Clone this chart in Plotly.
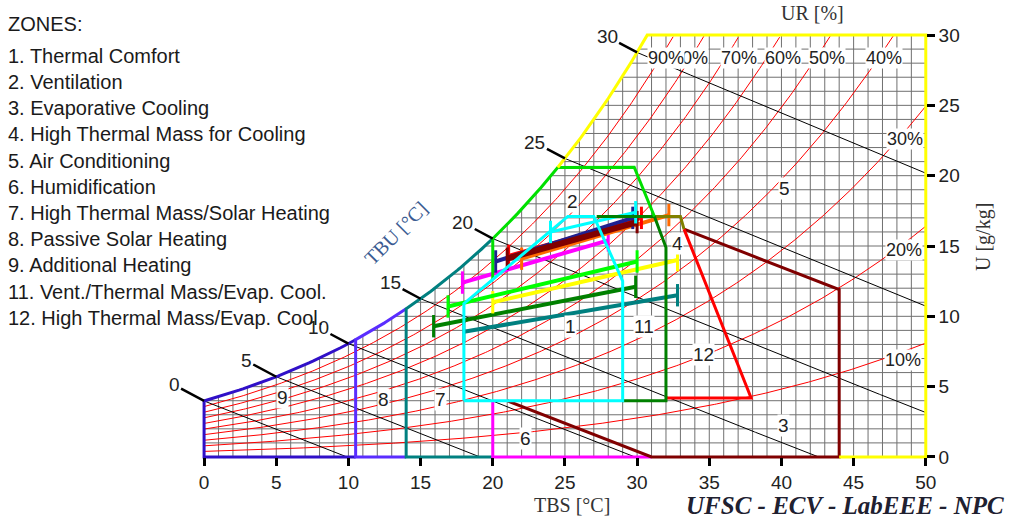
import numpy as np
import plotly.graph_objects as go

# ---------------- constants / data ----------------
P_ATM = 96.0  # kPa, atmospheric pressure used by the chart

RH_LEVELS = [10, 20, 30, 40, 50, 60, 70, 80, 90]
TBU_LEVELS = [0, 5, 10, 15, 20, 25, 30]
X_TICKS = [0, 5, 10, 15, 20, 25, 30, 35, 40, 45, 50]
Y_TICKS = [0, 5, 10, 15, 20, 25, 30]

LEGEND_LINES = [
    "ZONES:",
    "1. Thermal Comfort",
    "2. Ventilation",
    "3. Evaporative Cooling",
    "4. High Thermal Mass for Cooling",
    "5. Air Conditioning",
    "6. Humidification",
    "7. High Thermal Mass/Solar Heating",
    "8. Passive Solar Heating",
    "9. Additional Heating",
    "11. Vent./Thermal Mass/Evap. Cool.",
    "12. High Thermal Mass/Evap. Cool.",
]

ZONE_NUMBERS = ["1", "2", "3", "4", "5", "6", "7", "8", "9", "11", "12"]
ZONE_NUM_T = [25.4, 25.55, 40.15, 32.8, 40.2, 22.3, 16.4, 12.4, 5.4, 30.5, 34.6]
ZONE_NUM_U = [9.3, 18.15, 2.27, 15.2, 19.1, 1.28, 4.1, 4.1, 4.2, 9.3, 7.3]

RH_LABELS = ["10%", "20%", "30%", "40%", "50%", "60%", "70%", "80%", "90%"]
RH_LABEL_T = [48.44, 48.51, 48.58, 47.12, 43.13, 40.12, 37.08, 33.65, 32.02]
RH_LABEL_U = [6.9, 14.7, 22.6, 28.4, 28.4, 28.4, 28.4, 28.4, 28.4]

# zone boundaries (TBS, U); "sat" = point on the saturation curve
ZONES = [
    # color, T list, U list
    ("#3010c8", [10.5, 0, 0, 10.5], [0, 0, "sat", "sat"]),          # 9
    ("#5a2dff", [14, 10.5, 10.5, 14], [0, 0, "sat", "sat"]),        # 8
    ("#008080", [20, 14, 14, 20], [0, 0, "sat", "sat"]),            # 7
    ("#ff00ff", [20, 20, 31], [4, 0, 0]),                            # 6
    ("#800000", [33.25, 44, 44, 31, 21], [16.2, 11.9, 0, 0, 4]),     # 3
    ("#ff0000", [33.25, 37.9, 32], [16.2, 4.2, 4.2]),                # 12
    ("#808000", [31.2, 33.0, 33.25], [17.1, 17.1, 16.2]),            # 4
    ("#008000", [27.2, 31.2, 32, 32, 29], [17.1, 17.1, 14.9, 4, 4]), # 11
    ("#00e000", [20, 20, 24.5, 29.8, 31.2], [12.6, "sat", "sat", 20.6, 17.1]),  # 2
    ("#00ffff", [18, 18, 25.2, 27, 29, 29, 18], [4, 10.9, 17.1, 17.1, 12.5, 4, 4]),  # 1
    ("#ffff00", [24.5, 30.7, 50, 50, 44], ["sat", "sat", 30, 0, 0]), # 5
]

# monthly climate bars (min -> max)
BAR_COLORS = ["#008080", "#008000", "#ffff00", "#00ff00", "#ff00ff",
              "#ff6a00", "#ff0000", "#202090", "#800000", "#00ffff"]
BAR_T_MIN = [18.0, 15.9, 20.0, 16.9, 17.9, 22.0, 21.1, 20.2, 21.0, 24.0]
BAR_U_MIN = [8.9, 9.3, 11.0, 10.7, 12.4, 14.1, 14.3, 13.9, 14.1, 16.0]
BAR_T_MAX = [32.8, 29.9, 32.8, 30.0, 28.0, 32.2, 30.3, 29.7, 30.0, 29.9]
BAR_U_MAX = [11.5, 12.1, 14.0, 13.9, 15.4, 17.2, 17.0, 17.0, 16.7, 17.4]
BAR_WIDTHS = [4, 4, 4, 4, 4, 4, 4, 4, 6, 3]

# ---------------- psychrometrics ----------------
def pws(T):
    T = np.asarray(T, dtype=float)
    return 0.61078 * np.exp(17.27 * T / (T + 237.3))

def w_sat(T):
    p = pws(T)
    return 622.0 * p / (P_ATM - p)

def w_rh(T, rh):
    pv = rh / 100.0 * pws(T)
    return 622.0 * pv / (P_ATM - pv)

def w_wb(T, Tw):
    ws = w_sat(Tw) / 1000.0
    return 1000.0 * ((2501 - 2.326 * Tw) * ws - 1.006 * (T - Tw)) / (2501 + 1.86 * T - 4.186 * Tw)

def t_sat(W):
    pv = W * P_ATM / (622.0 + W)
    a = np.log(pv / 0.61078)
    return 237.3 * a / (17.27 - a)

def expand(Ts, Us):
    xs, ys = [], []
    for i in range(len(Ts)):
        if Us[i] == "sat" and i > 0 and Us[i - 1] == "sat":
            tt = np.linspace(Ts[i - 1], Ts[i], 40)[1:]
            xs += list(tt)
            ys += list(w_sat(tt))
        else:
            xs.append(Ts[i])
            ys.append(float(w_sat(Ts[i])) if Us[i] == "sat" else Us[i])
    return xs, ys

# ---------------- layout geometry ----------------
W_PX, H_PX = 1015, 518
ML, MR, MT, MB = 168, 82, 28, 54
XR = [-2.5, 50.5]
YR = [-0.5, 30.5]
PW = W_PX - ML - MR
PH = H_PX - MT - MB

def pap_x(px):
    return (px - ML) / PW

def pap_y(py):
    return (H_PX - MB - py) / PH

fig = go.Figure()

# ---------------- grid (under saturation) ----------------
gx, gy = [], []
for t in range(0, 51):
    top = min(float(w_sat(t)), 30.0)
    gx += [t, t, None]
    gy += [0, top, None]
for u in range(0, 31):
    left = 0.0 if u < float(w_sat(0)) else float(t_sat(u))
    gx += [left, 50, None]
    gy += [u, u, None]
fig.add_trace(go.Scatter(x=gx, y=gy, mode="lines", line=dict(color="#707070", width=1),
                         hoverinfo="skip", showlegend=False))

# ---------------- RH curves ----------------
for rh in RH_LEVELS:
    tt = np.linspace(0, 50, 401)
    ww = w_rh(tt, rh)
    mask = ww <= 30
    fig.add_trace(go.Scatter(x=tt[mask], y=ww[mask], mode="lines",
                             line=dict(color="#ff0000", width=1),
                             hoverinfo="skip", showlegend=False))

# ---------------- wet bulb lines ----------------
for tw in TBU_LEVELS:
    tt = np.linspace(tw, 50, 600)
    ww = w_wb(tt, tw)
    mask = ww >= 0
    fig.add_trace(go.Scatter(x=tt[mask], y=ww[mask], mode="lines",
                             line=dict(color="#000000", width=1),
                             hoverinfo="skip", showlegend=False))

# ---------------- climate bars ----------------
for c, t0, u0, t1, u1, lw in zip(BAR_COLORS, BAR_T_MIN, BAR_U_MIN, BAR_T_MAX, BAR_U_MAX, BAR_WIDTHS):
    fig.add_trace(go.Scatter(x=[t0, t1], y=[u0, u1], mode="lines+markers",
                             line=dict(color=c, width=lw),
                             marker=dict(symbol="line-ns", size=16, color=c,
                                         line=dict(color=c, width=3)),
                             hoverinfo="skip", showlegend=False))

# ---------------- zones ----------------
for c, Ts, Us in ZONES:
    xs, ys = expand(Ts, Us)
    fig.add_trace(go.Scatter(x=xs, y=ys, mode="lines", line=dict(color=c, width=3),
                             hoverinfo="skip", showlegend=False))

ann = []
SANS = "Liberation Sans, Arial, sans-serif"
SERIF = "Liberation Serif, Times New Roman, serif"

# TBU labels with arrows
for tw in TBU_LEVELS:
    ann.append(dict(x=tw, y=float(w_sat(tw)), xref="x", yref="y", text=str(tw),
                    showarrow=True, arrowhead=0, arrowwidth=2.5, arrowcolor="#000",
                    ax=-30, ay=-16, standoff=0,
                    font=dict(family=SANS, size=19, color="#222")))

# zone numbers
for s, t, u in zip(ZONE_NUMBERS, ZONE_NUM_T, ZONE_NUM_U):
    ann.append(dict(x=t, y=u, xref="x", yref="y", text=s, showarrow=False,
                    bgcolor="white", borderpad=0,
                    font=dict(family=SANS, size=19, color="#222")))

# RH labels (80% drawn before 90% so it is partly covered)
for s, t, u in zip(RH_LABELS, RH_LABEL_T, RH_LABEL_U):
    ann.append(dict(x=t, y=u, xref="x", yref="y", text=s, showarrow=False,
                    bgcolor="white", borderpad=0,
                    font=dict(family=SANS, size=18, color="#222")))

# legend text
LEG_Y = [23, 55, 81, 107, 133, 160, 186, 212, 238, 264, 291, 317]
for s, py in zip(LEGEND_LINES, LEG_Y):
    ann.append(dict(x=pap_x(6), y=pap_y(py + 1), xref="paper", yref="paper", text=s,
                    showarrow=False, xanchor="left", yanchor="middle",
                    font=dict(family=SANS, size=20, color="#1a1a1a")))

# axis titles
def title(text, px, py, size, color, angle=0, family=SERIF):
    ann.append(dict(x=pap_x(px), y=pap_y(py), xref="paper", yref="paper", text=text,
                    showarrow=False, xanchor="center", yanchor="middle", textangle=angle,
                    font=dict(family=family, size=size, color=color)))

title("TBS [°C]", 572, 505, 20, "#333")
title("UR [%]", 812, 13, 20, "#333")
title("U [g/kg]", 984, 237, 20, "#333", angle=-90)
title("TBU [°C]", 396, 233, 20, "#3b5b92", angle=-45)
title("<b><i>UFSC - ECV - LabEEE - NPC</i></b>", 845, 505, 25, "#202030")

fig.update_layout(
    width=W_PX, height=H_PX, autosize=False,
    margin=dict(l=ML, r=MR, t=MT, b=MB),
    paper_bgcolor="white", plot_bgcolor="white",
    showlegend=False,
    hovermode=False,
    annotations=ann,
    xaxis=dict(range=XR, showgrid=False, zeroline=False, showline=False,
               tickvals=X_TICKS, ticks="outside", ticklen=8, tickwidth=3, tickcolor="#000",
               tickfont=dict(family=SANS, size=19, color="#222"),
               anchor="free", position=(0 - YR[0]) / (YR[1] - YR[0])),
    yaxis=dict(range=YR, showgrid=False, zeroline=False, showline=False,
               tickvals=Y_TICKS, ticks="outside", ticklen=8, tickwidth=3, tickcolor="#000",
               tickfont=dict(family=SANS, size=19, color="#222"),
               side="right", anchor="free", position=(50 - XR[0]) / (XR[1] - XR[0])),
)

fig.write_html("out.html", config={"displayModeBar": False},
               post_script="document.body.style.margin='0px';")
